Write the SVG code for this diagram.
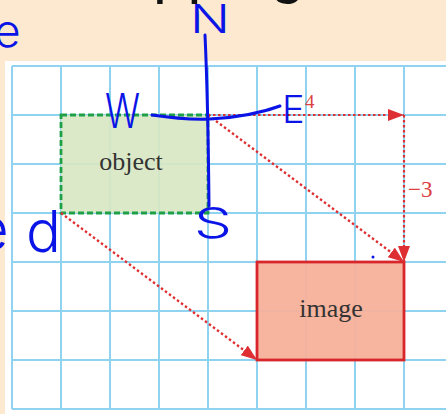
<svg xmlns="http://www.w3.org/2000/svg" width="446" height="414" viewBox="0 0 446 414">
  <style>
    .grid line { stroke: #8fd3f1; stroke-width: 2; }
    .conn { fill: none; stroke: #de2f33; stroke-width: 2.2; stroke-dasharray: 2.5 2.5; }
    .ink { fill: none; stroke: #0a14e6; stroke-width: 3; stroke-linecap: round; stroke-linejoin: round; }
    .hand { fill: #0a14e6; font-family: "Inter", "Open Sans", sans-serif; font-weight: 300; }
    .lbl { font-family: "Liberation Serif", serif; fill: #333333; font-size: 26px; text-anchor: middle; }
    .num { font-family: "Liberation Serif", serif; fill: #dc4040; }
  </style>
  <defs>
    <marker id="arr" viewBox="0 0 16 12" refX="16" refY="6" markerWidth="16" markerHeight="12" markerUnits="userSpaceOnUse" orient="auto">
      <path d="M0,0 L16,6 L0,12 Z" fill="#de2f33"/>
    </marker>
  </defs>

  <rect x="0" y="0" width="446" height="414" fill="#fde9cf"/>
  <text x="153" y="-9" font-family="Liberation Sans, sans-serif" font-size="62" fill="#111">pping</text>
  <rect x="5" y="61" width="441" height="353" fill="#ffffff"/>

  <g class="grid">
    <line x1="12" y1="66" x2="12" y2="409"/>
    <line x1="61" y1="66" x2="61" y2="409"/>
    <line x1="110" y1="66" x2="110" y2="409"/>
    <line x1="159" y1="66" x2="159" y2="409"/>
    <line x1="208" y1="66" x2="208" y2="409"/>
    <line x1="257" y1="66" x2="257" y2="409"/>
    <line x1="306" y1="66" x2="306" y2="409"/>
    <line x1="355" y1="66" x2="355" y2="409"/>
    <line x1="404" y1="66" x2="404" y2="409"/>
    <line x1="12" y1="66" x2="446" y2="66"/>
    <line x1="12" y1="115" x2="446" y2="115"/>
    <line x1="12" y1="164" x2="446" y2="164"/>
    <line x1="12" y1="213" x2="446" y2="213"/>
    <line x1="12" y1="262" x2="446" y2="262"/>
    <line x1="12" y1="311" x2="446" y2="311"/>
    <line x1="12" y1="360" x2="446" y2="360"/>
    <line x1="12" y1="409" x2="446" y2="409"/>
  </g>

  <g id="object">
    <rect x="61" y="115" width="147" height="98" fill="#d8e7c2" fill-opacity="0.9" stroke="#1f9f48" stroke-width="2.8" stroke-dasharray="6 3"/>
    <text class="lbl" x="131" y="170">object</text>
  </g>

  <g id="image">
    <rect x="257" y="262" width="147" height="98" fill="#f7b09a" fill-opacity="0.95" stroke="#d8262b" stroke-width="2.8"/>
    <text class="lbl" x="331" y="317">image</text>
  </g>

  <g id="connectors">
    <line class="conn" x1="208" y1="115" x2="404" y2="115" marker-end="url(#arr)"/>
    <line class="conn" x1="404" y1="115" x2="404" y2="262" marker-end="url(#arr)"/>
    <line class="conn" x1="208" y1="115" x2="404" y2="262" marker-end="url(#arr)"/>
    <line class="conn" x1="61" y1="213" x2="257" y2="360" marker-end="url(#arr)"/>
  </g>
  <text class="num" x="305" y="108" font-size="19">4</text>
  <text class="num" x="408" y="197" font-size="23">−3</text>

  <g id="annotations">
    <path class="ink" d="M205,35 Q208,100 209,206"/>
    <path class="ink" d="M152,115 Q185,120 210,119 Q250,117 280,106 L268,110"/>
    <text class="hand" x="190" y="33" font-size="40" textLength="40" lengthAdjust="spacingAndGlyphs">N</text>
    <text class="hand" x="105" y="128" font-size="48" textLength="35" lengthAdjust="spacingAndGlyphs">W</text>
    <text class="hand" x="282" y="123" font-size="38">E</text>
    <text class="hand" x="194" y="238" font-size="42" textLength="38" lengthAdjust="spacingAndGlyphs">S</text>
    <text class="hand" x="-6" y="47" font-size="46">e</text>
    <text class="hand" x="-26" y="250" font-size="60">e</text>
    <text class="hand" x="26" y="252" font-size="58">d</text>
    <circle cx="373" cy="257" r="1.5" fill="#0a14e6"/>
  </g>
</svg>
